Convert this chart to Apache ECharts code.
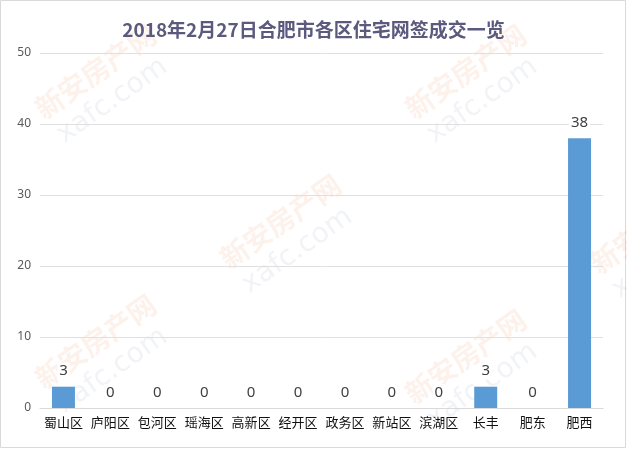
<!DOCTYPE html>
<html><head><meta charset="utf-8">
<script src="https://cdn.jsdelivr.net/npm/echarts@6/dist/echarts.min.js"></script>
<style>html,body{margin:0;padding:0;background:#fff}#c{width:627px;height:449px}</style>
</head><body><div id="c"></div>
<script>
const categories = ['蜀山区','庐阳区','包河区','瑶海区','高新区','经开区','政务区','新站区','滨湖区','长丰','肥东','肥西'];
const values = [3,0,0,0,0,0,0,0,0,3,0,38];
const titleText = '2018年2月27日合肥市各区住宅网签成交一览';

const chart = echarts.init(document.getElementById('c'));
const wmSpots = [[30,100],[400,100],[215,250],[585,255],[30,370],[400,385]];
const graphics = [{type:'rect',shape:{x:0.5,y:0.5,width:625,height:447},style:{fill:'none',stroke:'#d9d9d9',lineWidth:1},z:-1}];
wmSpots.forEach(p=>{
  graphics.push({type:'text',x:p[0],y:p[1],rotation:Math.PI*35/180,z:-1,silent:true,
    style:{text:'新安房产网',fill:'rgba(240,140,90,0.12)',font:'bold 28px "Noto Sans CJK SC"'}});
  graphics.push({type:'text',x:p[0]+22,y:p[1]+26,rotation:Math.PI*35/180,z:-1,silent:true,
    style:{text:'xafc.com',fill:'rgba(150,160,180,0.12)',font:'28px "DejaVu Sans"'}});
});
chart.setOption({
  animation:false,
  title:{text:titleText,left:'center',top:15,textStyle:{color:'#5b5a7e',fontSize:19,fontWeight:'bold',fontFamily:'"Noto Sans CJK SC"'}},
  grid:{left:40,right:24,top:53,bottom:41},
  graphic:graphics,
  xAxis:{type:'category',data:categories,
    axisLine:{lineStyle:{color:'#d9d9d9'}},axisTick:{show:false},
    axisLabel:{color:'#111',fontSize:13,fontFamily:'"Noto Sans CJK SC"',margin:8,interval:0}},
  yAxis:{type:'value',min:0,max:50,interval:10,
    axisLine:{show:false},axisTick:{show:false},
    splitLine:{lineStyle:{color:'#e0e0e0'}},
    axisLabel:{color:'#595959',fontSize:12,margin:9,fontFamily:'"Noto Sans"'}},
  series:[{type:'bar',data:values,barWidth:23,itemStyle:{color:'#5b9bd5'},
    label:{show:true,position:'top',color:'#404040',fontSize:15,distance:7,fontFamily:'"Noto Sans"',backgroundColor:'#fff',padding:[1,2]}}]
});
</script></body></html>
